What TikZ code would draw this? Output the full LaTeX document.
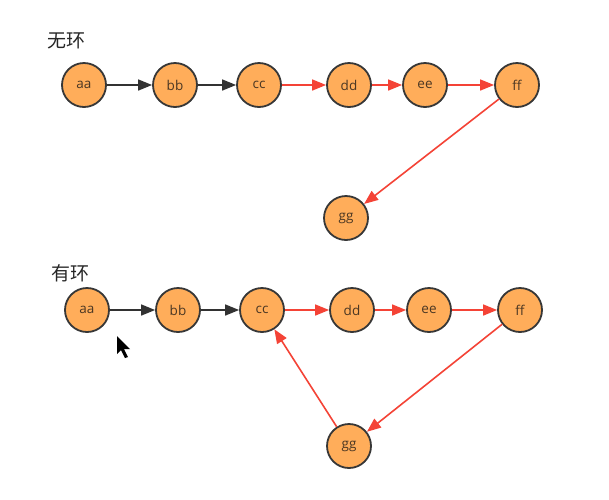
\documentclass[tikz,border=0pt]{standalone}
\usepackage{fontspec}
\setmainfont{Open Sans}
\newfontfamily\cjk{Noto Sans CJK SC}
\usetikzlibrary{arrows.meta}
\definecolor{nodefill}{RGB}{255,173,90}
\definecolor{nodeline}{RGB}{55,55,55}
\definecolor{redline}{RGB}{244,67,54}
\definecolor{darkline}{RGB}{50,50,50}
\definecolor{labeltext}{RGB}{75,55,35}
\tikzset{
  vertex/.style={circle, draw=nodeline, fill=nodefill, line width=1.8pt,
    minimum size=44pt, inner sep=0pt, font=\fontsize{13.5}{13.5}\selectfont, text=labeltext},
  blackedge/.style={draw=darkline, line width=1.6pt,
    -{Triangle[length=14pt,width=11pt]}},
  rededge/.style={draw=redline, line width=1.6pt,
    -{Triangle[length=14pt,width=11pt]}},
  title/.style={font=\cjk\fontsize{19}{19}\selectfont, text=black!85},
}
\begin{document}
\begin{tikzpicture}[x=1pt,y=-1pt]
\useasboundingbox (0,0) rectangle (609,499);
\fill[white] (0,0) rectangle (609,499);

% acyclic chain
\node[title] (t1) at (66,41) {无环};
\node[vertex] (a1) at (84,85) {aa};
\node[vertex] (b1) at (175,85) {bb};
\node[vertex] (c1) at (259,85) {cc};
\node[vertex] (d1) at (349,85) {dd};
\node[vertex] (e1) at (425,85) {ee};
\node[vertex] (f1) at (517,85) {ff};
\node[vertex] (g1) at (346,218) {gg};
\draw[blackedge] (a1) -- (b1);
\draw[blackedge] (b1) -- (c1);
\draw[rededge] (c1) -- (d1);
\draw[rededge] (d1) -- (e1);
\draw[rededge] (e1) -- (f1);
\draw[rededge] (f1) -- (g1);

% chain with a cycle
\node[title] (t2) at (70,273) {有环};
\node[vertex] (a2) at (87,310) {aa};
\node[vertex] (b2) at (178,310) {bb};
\node[vertex] (c2) at (262,310) {cc};
\node[vertex] (d2) at (352,310) {dd};
\node[vertex] (e2) at (429,310) {ee};
\node[vertex] (f2) at (520,310) {ff};
\node[vertex] (g2) at (349,446) {gg};
\draw[blackedge] (a2) -- (b2);
\draw[blackedge] (b2) -- (c2);
\draw[rededge] (c2) -- (d2);
\draw[rededge] (d2) -- (e2);
\draw[rededge] (e2) -- (f2);
\draw[rededge] (f2) -- (g2);
\draw[rededge] (g2) -- (c2);

% mouse pointer
\fill[black] (117,336) -- (117,354) -- (121,350) -- (125,358) -- (128,357) -- (124,349) -- (130,349) -- cycle;
\end{tikzpicture}
\end{document}
